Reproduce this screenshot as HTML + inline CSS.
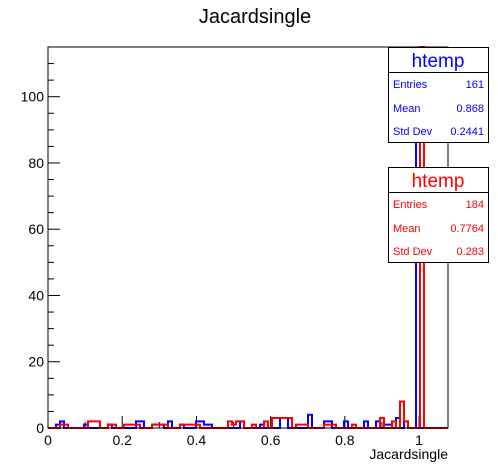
<!DOCTYPE html>
<html><head><meta charset="utf-8"><style>
body{margin:0;background:#fff}
svg{display:block;font-family:"Liberation Sans",sans-serif}
</style></head><body>
<svg id="c" width="498" height="476" viewBox="0 0 498 476">
<text x="255" y="23" font-size="20" text-anchor="middle">Jacardsingle</text>
<g id="axes"></g>
<g id="plot"></g>
<rect x="48" y="47" width="400" height="381" fill="none" stroke="#000" stroke-width="1"/>
<text x="448" y="459" font-size="14" text-anchor="end">Jacardsingle</text>
<g>
<rect x="388.5" y="47.5" width="100" height="95" fill="#fff" stroke="#000"/>
<line x1="388.5" y1="72.5" x2="488.5" y2="72.5" stroke="#000"/>
<text x="438" y="67" font-size="19" fill="#00f" text-anchor="middle">htemp</text>
<g font-size="11" fill="#00f">
<text x="393" y="88">Entries</text><text x="484" y="88" text-anchor="end">161</text>
<text x="393" y="112">Mean</text><text x="484" y="112" text-anchor="end">0.868</text>
<text x="393" y="135">Std Dev</text><text x="484" y="135" text-anchor="end">0.2441</text>
</g></g>
<g>
<rect x="388.5" y="167.5" width="100" height="95" fill="#fff" stroke="#000"/>
<line x1="388.5" y1="192.5" x2="488.5" y2="192.5" stroke="#000"/>
<text x="438" y="187" font-size="19" fill="#f00" text-anchor="middle">htemp</text>
<g font-size="11" fill="#f00">
<text x="393" y="208">Entries</text><text x="484" y="208" text-anchor="end">184</text>
<text x="393" y="232">Mean</text><text x="484" y="232" text-anchor="end">0.7764</text>
<text x="393" y="255">Std Dev</text><text x="484" y="255" text-anchor="end">0.283</text>
</g></g>
</svg>
<script>
const nBins = 100;
const xMax = 1.078;
const yMax = 115;
const xTicks = [0, 0.2, 0.4, 0.6, 0.8, 1];
const xTickLabels = ["0", "0.2", "0.4", "0.6", "0.8", "1"];
const yTicks = [0, 20, 40, 60, 80, 100];
const yTickLabels = ["0", "20", "40", "60", "80", "100"];
const blueBins = [2,3,9,15,22,23,26,27,28,30,33,37,38,39,40,48,53,58,59,65,69,70,74,79,82,84,85,87,89,92];
const blueCounts = [1,2,1,1,2,2,1,1,1,2,1,2,2,1,1,2,1,3,3,4,2,2,2,2,2,1,1,3,2,109];
const redBins = [3,4,10,11,12,15,16,19,20,21,22,26,27,28,29,33,34,35,36,37,45,46,47,48,51,54,56,57,58,59,60,62,63,64,69,70,71,76,83,86,88,89,93];
const redCounts = [1,1,2,2,2,1,1,1,1,1,1,1,1,1,1,1,1,1,1,1,2,1,2,2,1,2,3,3,3,3,3,1,1,1,1,1,1,1,3,2,8,2,120];

const X0=48,X1=448,Y0=428,Y1=47;
const xs = v => X0 + v/xMax*(X1-X0);
const ys = v => Y0 - Math.min(v,yMax)/yMax*(Y0-Y1);
const bw = xMax/nBins;
const NS="http://www.w3.org/2000/svg";
const axes=document.getElementById('axes'), plot=document.getElementById('plot');
function mk(tag,attrs,parent){const e=document.createElementNS(NS,tag);for(const k in attrs)e.setAttribute(k,attrs[k]);parent.appendChild(e);return e;}

// x ticks
for(let v=0; v<=xMax+1e-9; v+=0.1){
  const x=xs(v), major=Math.abs(v/0.2-Math.round(v/0.2))<1e-6;
  const t=mk('line',{x1:x,x2:x,y1:Y0,y2:Y0-(major?12:6),stroke:'#000'},axes);
  
  
}
xTicks.forEach((v,i)=>{
  const t=mk('text',{x:xs(v),y:Y0+17,'font-size':14,'text-anchor':'middle'},axes);
  t.textContent=xTickLabels[i];
  
  
});
for(let v=0; v<=yMax; v+=5){
  const y=ys(v), major=v%20===0;
  const t=mk('line',{x1:X0,x2:X0+(major?12:6),y1:y,y2:y,stroke:'#000'},axes);
  
  
}
yTicks.forEach((v,i)=>{
  const t=mk('text',{x:X0-4,y:ys(v)+5,'font-size':14,'text-anchor':'end'},axes);
  t.textContent=yTickLabels[i];
  
  
});

function histPath(bins,counts){
  const arr=new Array(nBins).fill(0);
  bins.forEach((b,i)=>arr[b]=counts[i]);
  let d='M'+xs(0)+','+Y0;
  for(let i=0;i<nBins;i++){
    d+=' L'+xs(i*bw)+','+ys(arr[i])+' L'+xs((i+1)*bw)+','+ys(arr[i]);
  }
  d+=' L'+xs(xMax)+','+Y0;
  return d;
}
const pb=mk('path',{d:histPath(blueBins,blueCounts),fill:'none',stroke:'#00f','stroke-width':2},plot);


const pr=mk('path',{d:histPath(redBins,redCounts),fill:'none',stroke:'#f00','stroke-width':2},plot);


</script>
</body></html>
